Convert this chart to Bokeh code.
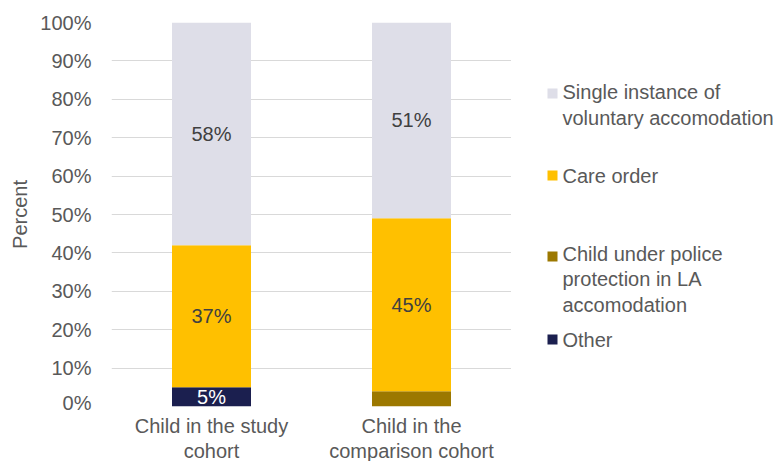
from bokeh.plotting import figure
from bokeh.layouts import row, column
from bokeh.models import (ColumnDataSource, NumeralTickFormatter,
                          FixedTicker, FactorRange, Range1d)
from bokeh.core.properties import value
from bokeh.embed import file_html
from bokeh.resources import INLINE

# ---- data ----
categories = ["Child in the study\ncohort", "Child in the\ncomparison cohort"]
series_names = ["Other",
                "Child under police\nprotection in LA\naccomodation",
                "Care order",
                "Single instance of\nvoluntary accomodation"]
other = [5, 0]
police = [0, 4]
care = [37, 45]
single = [58, 51]
y_ticks = [0, 10, 20, 30, 40, 50, 60, 70, 80, 90, 100]

colors = ["#1B1F4F", "#9C7800", "#FFC000", "#DEDEE8"]
label_colors = ["white", None, "#404040", "#404040"]

FONT = "Liberation Sans"
TXT = "#595959"

keys = ["other", "police", "care", "single"]
values = [other, police, care, single]
data = {"cat": categories}
for k, v in zip(keys, values):
    data[k] = [x / 100 for x in v]
src = ColumnDataSource(data)

# ---- main chart ----
p = figure(x_range=FactorRange(factors=categories), y_range=Range1d(0, 1),
           width=511, height=413, output_backend="svg", toolbar_location=None,
           min_border_left=111, min_border_right=0, min_border_top=22,
           min_border_bottom=7)
p.outline_line_color = None
p.background_fill_color = "white"
p.border_fill_color = "white"

renderers = p.vbar_stack(keys, x="cat", width=0.395, color=colors, line_width=0,
                         source=src)

# segment labels
lx, ly, lt, lc = [], [], [], []
for i, cat in enumerate(categories):
    base = 0.0
    for v, col in zip(values, label_colors):
        val = v[i] / 100
        if col is not None and v[i] >= 5:
            lx.append(cat)
            ly.append(base + val / 2)
            lt.append(f"{v[i]}%")
            lc.append(col)
        base += val
p.text(x=lx, y=ly, text=lt, text_color=lc, text_align="center",
       text_baseline="middle", text_font=value(FONT), text_font_size="20px")

p.yaxis.ticker = FixedTicker(ticks=[t / 100 for t in y_ticks])
p.yaxis.formatter = NumeralTickFormatter(format="0%")
p.yaxis.axis_line_color = None
p.yaxis.major_tick_line_color = None
p.yaxis.minor_tick_line_color = None
p.yaxis.major_tick_out = 0
p.yaxis.major_tick_in = 0
p.yaxis.major_label_standoff = 20
p.yaxis.major_label_text_font = FONT
p.yaxis.major_label_text_font_size = "20px"
p.yaxis.major_label_text_color = TXT
p.yaxis.axis_label = "Percent"
p.yaxis.axis_label_text_font = FONT
p.yaxis.axis_label_text_font_style = "normal"
p.yaxis.axis_label_text_font_size = "20px"
p.yaxis.axis_label_text_color = TXT
p.yaxis.axis_label_standoff = 6

p.xaxis.visible = False
p.xgrid.grid_line_color = None
p.ygrid.ticker = FixedTicker(ticks=[t / 100 for t in y_ticks])
p.ygrid.grid_line_color = "#D9D9D9"
p.ygrid.grid_line_width = 1

# ---- category labels strip (shares the categorical x scale) ----
lab = figure(x_range=p.x_range, y_range=Range1d(48, 0), width=511, height=48,
             output_backend="svg", toolbar_location=None,
             x_axis_type=None, y_axis_type=None,
             min_border_left=111, min_border_right=0, min_border_top=0,
             min_border_bottom=0)
lab.outline_line_color = None
lab.grid.grid_line_color = None
lab.text(x=categories, y=[25, 25], text=categories, text_align="center",
         text_baseline="middle", text_font=value(FONT), text_font_size="20px",
         text_color=TXT, text_line_height=1.1)

# ---- legend panel ----
lp = figure(width=267, height=461, output_backend="svg", toolbar_location=None,
            x_range=Range1d(0, 267), y_range=Range1d(461, 0),
            x_axis_type=None, y_axis_type=None, min_border=0)
lp.outline_line_color = None
lp.grid.grid_line_color = None

order = [3, 2, 1, 0]                 # top to bottom
first_line_y = [93, 175, 256, 339]   # legend layout (px from top)
LINE = 23
names = [series_names[i] for i in order]
sw_colors = [colors[i] for i in order]
n_lines = [n.count("\n") + 1 for n in names]
block_y = [y + (k - 1) * LINE / 2 for y, k in zip(first_line_y, n_lines)]
lp.rect(x=[41] * 4, y=first_line_y, width=10, height=10, color=sw_colors,
        line_width=0)
lp.text(x=[51] * 4, y=block_y, text=names, text_align="left",
        text_baseline="middle", text_font=value(FONT), text_font_size="20px",
        text_color=TXT, text_line_height=1.15)

layout = row(column(p, lab), lp)
open("out.html", "w").write(file_html(layout, INLINE))
